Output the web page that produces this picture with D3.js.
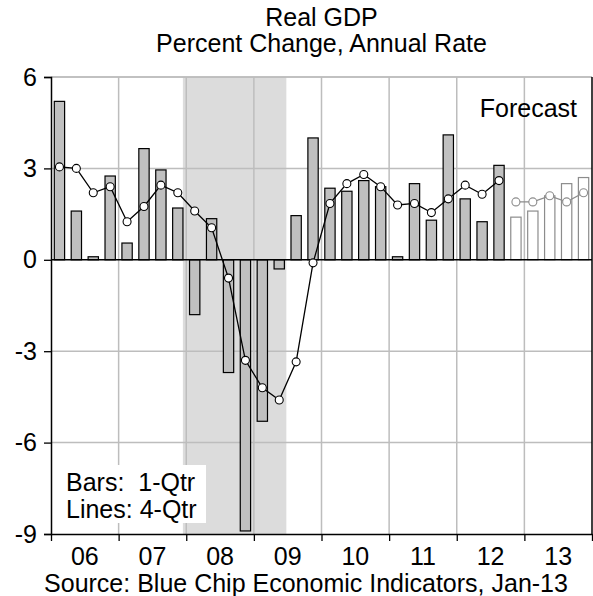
<!DOCTYPE html>
<html lang="en">
<head>
<meta charset="UTF-8">
<title>Real GDP</title>
<script src="https://cdnjs.cloudflare.com/ajax/libs/d3/7.8.5/d3.min.js"></script>
<style>
  body { margin: 0; background: #fff; }
  text { font-family: Arial, "Liberation Sans", sans-serif; fill: #000; }
</style>
</head>
<body>
<div id="chart"></div>
<script>
// quarters 2006Q1 .. 2013Q4
var years = ["06", "07", "08", "09", "10", "11", "12", "13"];
var quarters = [];
years.forEach(function (y) { for (var q = 1; q <= 4; q++) quarters.push(y + "Q" + q); });

// 1-quarter growth (bars)
var gdpQtr = [5.2, 1.6, 0.1, 2.75, 0.55, 3.65, 2.95, 1.7,
              -1.8, 1.35, -3.7, -8.9, -5.3, -0.3, 1.45, 4.0,
              2.35, 2.25, 2.6, 2.4, 0.1, 2.5, 1.3, 4.1,
              2.0, 1.25, 3.1, 1.4, 1.6, 2.1, 2.5, 2.7];
// 4-quarter growth (line)
var gdp4Qtr = [3.05, 3.0, 2.2, 2.4, 1.25, 1.75, 2.45, 2.2,
               1.6, 1.05, -0.6, -3.3, -4.2, -4.6, -3.35, -0.1,
               1.85, 2.5, 2.8, 2.4, 1.8, 1.85, 1.55, 2.0,
               2.45, 2.15, 2.6, 1.9, 1.9, 2.1, 1.9, 2.2];
var firstForecast = 27;          // 2012Q4 onward is forecast
var recession = [2007.95, 2009.48];
var yTicks = [6, 3, 0, -3, -6, -9];

var W = 593, H = 596;
var pL = 51, pR = 592, pT = 77, pB = 534;
var fs = 25;

var svg = d3.select("#chart").append("svg")
  .attr("width", W).attr("height", H);

var xTime = d3.scaleLinear().domain([2006, 2014]).range([pL, pR]);
var x = d3.scaleBand().domain(quarters).range([pL, pR])
  .paddingInner(0.39).paddingOuter(0.195);
var y = d3.scaleLinear().domain([-9, 6]).range([pB, pT]);

// recession shading
svg.append("rect")
  .attr("x", xTime(recession[0])).attr("y", pT)
  .attr("width", xTime(recession[1]) - xTime(recession[0]))
  .attr("height", pB - pT)
  .attr("fill", "#dcdcdc");

// grid
var grid = svg.append("g").attr("stroke", "#bdbdbd").attr("stroke-width", 1.5);
d3.range(2007, 2014).forEach(function (t) {
  grid.append("line").attr("x1", xTime(t)).attr("x2", xTime(t))
    .attr("y1", pT).attr("y2", pB);
});
yTicks.filter(function (v) { return v !== 0 && v !== -9; }).forEach(function (v) {
  grid.append("line").attr("x1", pL).attr("x2", pR)
    .attr("y1", y(v)).attr("y2", y(v));
});

// legend box
svg.append("rect").attr("x", 60).attr("y", 465).attr("width", 146).attr("height", 58)
  .attr("fill", "#fff");
svg.append("text").attr("x", 66).attr("y", 491).attr("font-size", fs)
  .attr("xml:space", "preserve").text("Bars:  1-Qtr");
svg.append("text").attr("x", 66).attr("y", 518).attr("font-size", fs)
  .text("Lines: 4-Qtr");

// bars
svg.append("g").selectAll("rect").data(gdpQtr).join("rect")
  .attr("x", function (d, i) { return x(quarters[i]); })
  .attr("width", x.bandwidth())
  .attr("y", function (d) { return y(Math.max(0, d)); })
  .attr("height", function (d) { return Math.abs(y(d) - y(0)); })
  .attr("fill", function (d, i) { return i >= firstForecast ? "#fff" : "#c0c0c0"; })
  .attr("stroke", function (d, i) { return i >= firstForecast ? "#8c8c8c" : "#000"; })
  .attr("stroke-width", 1.2);

// zero line
svg.append("line").attr("x1", pL).attr("x2", pR)
  .attr("y1", y(0)).attr("y2", y(0))
  .attr("stroke", "#000").attr("stroke-width", 1.5);

// 4-qtr line
var pts = gdp4Qtr.map(function (v, i) {
  return { x: x(quarters[i]) + x.bandwidth() / 2, y: y(v), f: i >= firstForecast };
});
var line = d3.line().x(function (d) { return d.x; }).y(function (d) { return d.y; });
svg.append("path").datum(pts.filter(function (d) { return !d.f; }))
  .attr("d", line).attr("fill", "none").attr("stroke", "#000").attr("stroke-width", 1.3);
svg.append("path").datum(pts.filter(function (d) { return d.f; }))
  .attr("d", line).attr("fill", "none").attr("stroke", "#8c8c8c").attr("stroke-width", 1.3);
svg.append("g").selectAll("circle").data(pts).join("circle")
  .attr("cx", function (d) { return d.x; })
  .attr("cy", function (d) { return d.y; })
  .attr("r", 4)
  .attr("fill", "#fff")
  .attr("stroke", function (d) { return d.f ? "#8c8c8c" : "#000"; })
  .attr("stroke-width", 1.1);

// frame
svg.append("line").attr("x1", pL).attr("x2", pR).attr("y1", pT).attr("y2", pT)
  .attr("stroke", "#bdbdbd").attr("stroke-width", 1.5);
svg.append("line").attr("x1", pR).attr("x2", pR).attr("y1", pT).attr("y2", pB)
  .attr("stroke", "#000").attr("stroke-width", 1.5);

// axes
var yAxis = svg.append("g").attr("transform", "translate(" + pL + ",0)")
  .call(d3.axisLeft(y).tickValues(yTicks).tickSize(7).tickPadding(7)
    .tickFormat(function (d) { return String(d); }));
yAxis.select(".domain").attr("stroke-width", 1.5);
yAxis.selectAll("line").attr("stroke-width", 1.3);
yAxis.selectAll("text").attr("font-size", fs).attr("font-family", "Arial, 'Liberation Sans', sans-serif");

var xAxis = svg.append("g").attr("transform", "translate(0," + pB + ")")
  .call(d3.axisBottom(xTime).tickValues(d3.range(2006, 2015)).tickSize(7)
    .tickSizeOuter(0).tickFormat(""));
xAxis.select(".domain").attr("stroke-width", 1.5);
xAxis.selectAll("line").attr("stroke-width", 1.3);

svg.append("g").selectAll("text").data(years).join("text")
  .attr("x", function (d, i) { return xTime(2006 + i + 0.5); })
  .attr("y", 565)
  .attr("text-anchor", "middle")
  .attr("font-size", fs)
  .text(function (d) { return d; });

// titles
svg.append("text").attr("x", (pL + pR) / 2).attr("y", 26)
  .attr("text-anchor", "middle").attr("font-size", fs).text("Real GDP");
svg.append("text").attr("x", (pL + pR) / 2).attr("y", 52)
  .attr("text-anchor", "middle").attr("font-size", fs).text("Percent Change, Annual Rate");
svg.append("text").attr("x", 577).attr("y", 117)
  .attr("text-anchor", "end").attr("font-size", fs).text("Forecast");
svg.append("text").attr("x", 306).attr("y", 592)
  .attr("text-anchor", "middle").attr("font-size", fs)
  .text("Source: Blue Chip Economic Indicators, Jan-13");
</script>
</body>
</html>
